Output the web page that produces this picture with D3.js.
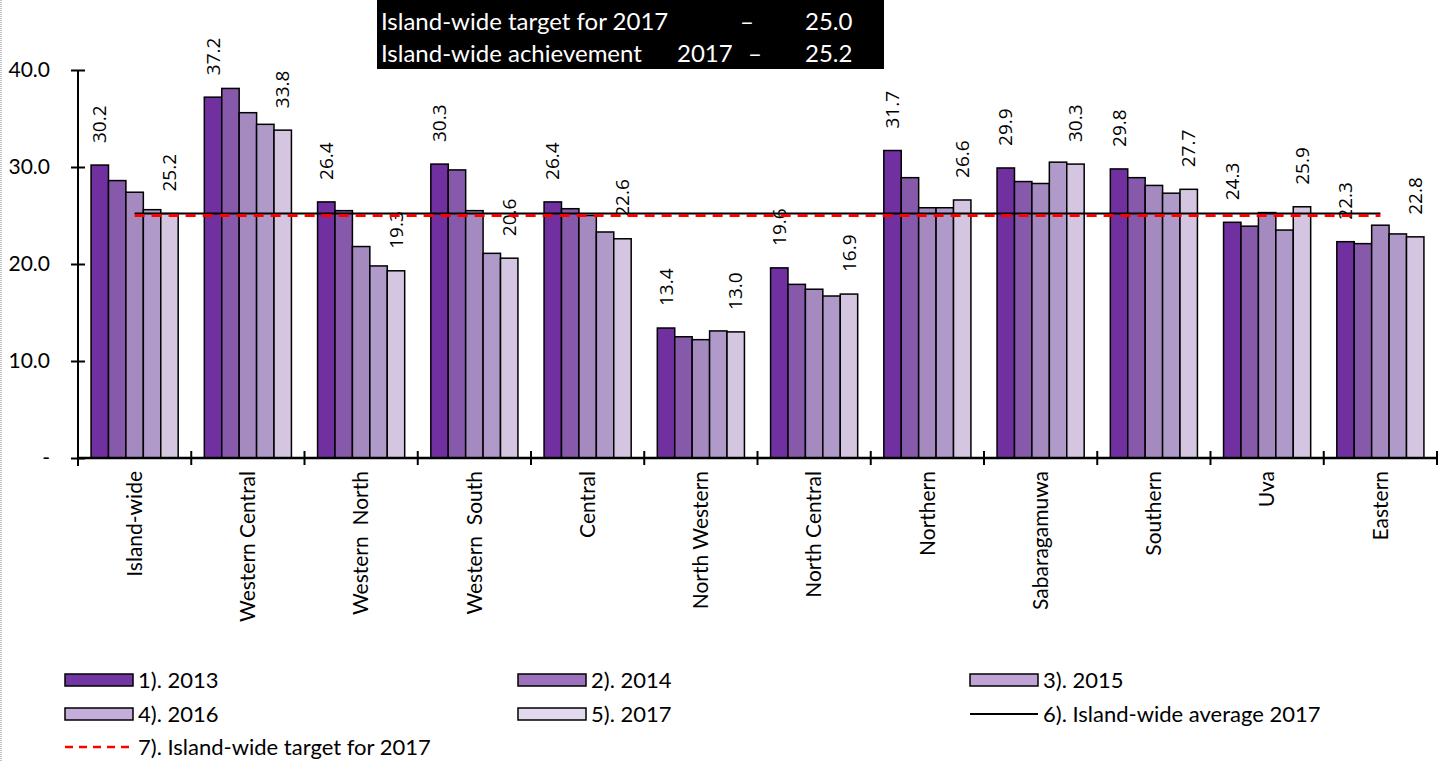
<!DOCTYPE html>
<html>
<head>
<meta charset="utf-8">
<script src="https://cdn.jsdelivr.net/npm/d3@7"></script>
<style>
  body { margin: 0; background: #fff; }
  text { font-family: Lato, "Open Sans", sans-serif; }
</style>
</head>
<body>
<div id="chart"></div>
<script>
// Chart data
const regions = ["Island-wide", "Western Central", "Western  North", "Western  South", "Central",
    "North Western", "North Central", "Northern", "Sabaragamuwa", "Southern", "Uva", "Eastern"];
const years = ["2013", "2014", "2015", "2016", "2017"];
const v2013 = [30.2, 37.2, 26.4, 30.3, 26.4, 13.4, 19.6, 31.7, 29.9, 29.8, 24.3, 22.3];
const v2014 = [28.6, 38.1, 25.5, 29.7, 25.7, 12.5, 17.9, 28.9, 28.5, 28.9, 23.9, 22.1];
const v2015 = [27.4, 35.6, 21.8, 25.5, 25.0, 12.2, 17.4, 25.8, 28.3, 28.1, 25.3, 24.0];
const v2016 = [25.6, 34.4, 19.8, 21.1, 23.3, 13.1, 16.7, 25.8, 30.5, 27.3, 23.5, 23.1];
const v2017 = [25.2, 33.8, 19.3, 20.6, 22.6, 13.0, 16.9, 26.6, 30.3, 27.7, 25.9, 22.8];
const islandAverage2017 = 25.2;
const islandTarget2017 = 25.0;
const yTicks = [0, 10, 20, 30, 40];
const legendLabels = ["1). 2013", "2). 2014", "3). 2015", "4). 2016", "5). 2017",
    "6). Island-wide average 2017", "7). Island-wide target for 2017"];

const series = [v2013, v2014, v2015, v2016, v2017];
const barColors = ["#7030A0", "#8759AB", "#A58ABF", "#B09ACA", "#D4C6E1"];
const legendColors = ["#7337A3", "#9C72BD", "#C0A2D4", "#C4ADDA", "#E3D9EE"];

const width = 1448;
const height = 762;

const svg = d3.select("#chart")
    .append("svg")
    .attr("width", width)
    .attr("height", height);

// dotted frame edge on the left
svg.append("line")
    .attr("x1", 1).attr("x2", 1)
    .attr("y1", 0).attr("y2", height)
    .attr("stroke", "#888")
    .attr("stroke-dasharray", "1,1");

// Scales
const x = d3.scaleBand()
    .domain(regions)
    .range([78, 1437])
    .padding(0);

const xSub = d3.scaleBand()
    .domain(years)
    .range([0, x.bandwidth()])
    .paddingInner(0)
    .paddingOuter(0.75);

const y = d3.scaleLinear()
    .domain([0, 40])
    .range([458, 70]);

// Bars
const groups = svg.selectAll(".group")
    .data(regions)
    .enter()
    .append("g")
    .attr("class", "group")
    .attr("transform", d => `translate(${x(d)},0)`);

groups.selectAll("rect")
    .data((d, i) => years.map((yr, j) => ({ year: yr, value: series[j][i], j: j })))
    .enter()
    .append("rect")
    .attr("x", d => xSub(d.year))
    .attr("y", d => y(d.value))
    .attr("width", xSub.bandwidth())
    .attr("height", d => y(0) - y(d.value))
    .attr("fill", d => barColors[d.j])
    .attr("stroke", "#000")
    .attr("stroke-width", 1.5);

// Average and target lines
const lineX1 = x(regions[0]) + x.bandwidth() / 2;
const lineX2 = x(regions[regions.length - 1]) + x.bandwidth() / 2;

svg.append("line")
    .attr("x1", lineX1).attr("x2", lineX2)
    .attr("y1", y(islandAverage2017)).attr("y2", y(islandAverage2017))
    .attr("stroke", "#000")
    .attr("stroke-width", 2);

svg.append("line")
    .attr("x1", lineX1).attr("x2", lineX2)
    .attr("y1", y(islandTarget2017)).attr("y2", y(islandTarget2017))
    .attr("stroke", "#ff0000")
    .attr("stroke-width", 3)
    .attr("stroke-dasharray", "10,7");

// Value labels for 2013 and 2017
groups.selectAll(".val")
    .data((d, i) => [{ year: "2013", value: v2013[i] }, { year: "2017", value: v2017[i] }])
    .enter()
    .append("text")
    .attr("class", "val")
    .attr("transform", d => `translate(${xSub(d.year) + xSub.bandwidth() / 2}, ${y(d.value) - 22}) rotate(-90)`)
    .attr("dy", "0.35em")
    .attr("text-anchor", "start")
    .style("font-family", "'Open Sans', sans-serif")
    .style("font-size", "19px")
    .text(d => d.value.toFixed(1));

// Y axis
const yAxis = d3.axisLeft(y)
    .tickValues(yTicks)
    .tickSize(7)
    .tickPadding(21)
    .tickFormat(d => d === 0 ? "-" : d.toFixed(1));

const yg = svg.append("g")
    .attr("transform", "translate(78,0)")
    .call(yAxis);
yg.select(".domain").attr("stroke-width", 2).attr("d", `M0,${y(40)}V${y(0) + 8}`);
yg.selectAll(".tick line").attr("x1", 7).attr("stroke-width", 2);
yg.selectAll(".tick text")
    .style("font-size", "21px")
    .style("font-family", "Lato, sans-serif")
    .attr("fill", "#000");

// X axis
svg.append("line")
    .attr("x1", 78).attr("x2", 1437)
    .attr("y1", y(0)).attr("y2", y(0))
    .attr("stroke", "#000")
    .attr("stroke-width", 2.5);

svg.selectAll(".xtick")
    .data(regions.slice(1).concat(["end"]))
    .enter()
    .append("line")
    .attr("class", "xtick")
    .attr("x1", d => d === "end" ? x.range()[1] : x(d))
    .attr("x2", d => d === "end" ? x.range()[1] : x(d))
    .attr("y1", y(0) - 7)
    .attr("y2", y(0) + 7)
    .attr("stroke", "#000")
    .attr("stroke-width", 2);

svg.selectAll(".xlabel")
    .data(regions)
    .enter()
    .append("text")
    .attr("class", "xlabel")
    .attr("transform", d => `translate(${x(d) + x.bandwidth() / 2}, 471) rotate(-90)`)
    .attr("dy", "0.35em")
    .attr("text-anchor", "end")
    .style("font-size", "21px")
    .style("white-space", "pre")
    .text(d => d);

// Title box
svg.append("rect")
    .attr("x", 377).attr("y", 0)
    .attr("width", 507).attr("height", 69)
    .attr("fill", "#000");

const titleRows = [
    { y: 30, parts: [["Island-wide target for 2017", 381], ["–", 740], ["25.0", 805]] },
    { y: 62, parts: [["Island-wide achievement", 381], ["2017", 677], ["–", 748], ["25.2", 805]] }
];
titleRows.forEach(row => {
    row.parts.forEach(p => {
        svg.append("text")
            .attr("x", p[1])
            .attr("y", row.y)
            .attr("fill", "#fff")
            .style("font-size", "24px")
            .text(p[0]);
    });
});

// Legend
const legendCols = [65, 518, 970];
const legendRows = [680, 714, 747];

legendLabels.forEach((lbl, i) => {
    const lx = legendCols[i % 3];
    const ly = legendRows[Math.floor(i / 3)];
    const g = svg.append("g").attr("transform", `translate(${lx},${ly})`);
    if (i < 5) {
        g.append("rect")
            .attr("x", 0).attr("y", -6)
            .attr("width", 68).attr("height", 12)
            .attr("fill", legendColors[i])
            .attr("stroke", "#000")
            .attr("stroke-width", 1.5);
    } else if (i === 5) {
        g.append("line")
            .attr("x1", 0).attr("x2", 68)
            .attr("y1", 0).attr("y2", 0)
            .attr("stroke", "#000").attr("stroke-width", 2);
    } else {
        g.append("line")
            .attr("x1", 0).attr("x2", 64)
            .attr("y1", 0).attr("y2", 0)
            .attr("stroke", "#ff0000").attr("stroke-width", 2.5)
            .attr("stroke-dasharray", "8,6");
    }
    g.append("text")
        .attr("x", 73).attr("y", 7.5)
        .style("font-size", "22px")
        .text(lbl);
});
</script>
</body>
</html>
